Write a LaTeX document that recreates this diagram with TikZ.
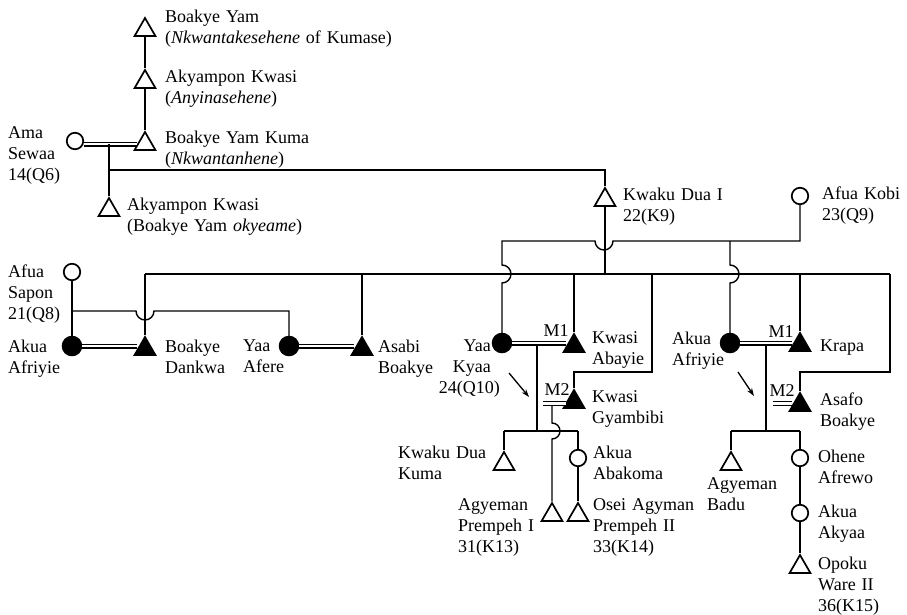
\documentclass[tikz,border=0pt]{standalone}
\usepackage{fontspec}
\setmainfont[WordSpace=1.3]{Liberation Serif}
\usetikzlibrary{shapes.geometric,arrows.meta}
\begin{document}
\begin{tikzpicture}[x=1pt,y=-1pt,
  font=\fontsize{18}{21}\selectfont,
  tri/.style={regular polygon, regular polygon sides=3, minimum size=24pt, inner sep=0pt, draw, line width=1.7pt},
  otri/.style={tri, fill=white},
  ftri/.style={tri, fill=black},
  ocirc/.style={circle, draw, line width=1.7pt, minimum size=16.5pt, inner sep=0pt},
  fcirc/.style={circle, fill=black, draw, line width=1pt, minimum size=19.5pt, inner sep=0pt},
  lbl/.style={align=left, anchor=north west, inner sep=0pt},
  rlbl/.style={align=right, anchor=north east, inner sep=0pt},
  ln/.style={line width=1.4pt},
  marr/.style={double, double distance=2.6pt, line width=1.2pt},
  ptr/.style={line width=1.3pt, -{Stealth[length=8pt,width=5.5pt]}},
]
\useasboundingbox (0,0) rectangle (907,615);

% ---- people ----
\node[otri] (by)   at (145,30)  {};
\node[otri] (ak1)  at (145,82)  {};
\node[otri] (byk)  at (145,144) {};
\node[otri] (ak2)  at (109,210) {};
\node[otri] (kd1)  at (605,200) {};
\node[ftri] (bd)   at (145,349) {};
\node[ftri] (ab)   at (362,349) {};
\node[ftri] (kab)  at (574,346) {};
\node[ftri] (kg)   at (574,402) {};
\node[otri] (kdk)  at (504,464) {};
\node[otri] (ap1)  at (552,515) {};
\node[otri] (oap2) at (578,515) {};
\node[ftri] (kr)   at (800,345) {};
\node[ftri] (asb)  at (800,405) {};
\node[otri] (agb)  at (731,464) {};
\node[otri] (ow2)  at (800,567) {};

\node[ocirc] (as)  at (75,141)  {};
\node[ocirc] (afs) at (72,272)  {};
\node[fcirc] (aa1) at (72,346)  {};
\node[fcirc] (ya)  at (289,346) {};
\node[ocirc] (akb) at (800,196) {};
\node[fcirc] (yk)  at (502,343) {};
\node[ocirc] (aab) at (578,458) {};
\node[fcirc] (aa2) at (730,343) {};
\node[ocirc] (oa)  at (800,458) {};
\node[ocirc] (aak) at (800,513) {};

% ---- labels ----
\node[lbl] (Lby)  at (165,10)  {Boakye Yam\\(\textit{Nkwantakesehene} of Kumase)};
\node[lbl] (Lak1) at (165,70)  {Akyampon Kwasi\\(\textit{Anyinasehene})};
\node[lbl] (Lbyk) at (165,131) {Boakye Yam Kuma\\(\textit{Nkwantanhene})};
\node[lbl] (Lak2) at (127,198) {Akyampon Kwasi\\(Boakye Yam \textit{okyeame})};
\node[lbl] (Las)  at (8,126)   {Ama\\Sewaa\\14(Q6)};
\node[lbl] (Lkd1) at (623,188) {Kwaku Dua I\\22(K9)};
\node[lbl] (Lakb) at (822,187) {Afua Kobi\\23(Q9)};
\node[lbl] (Lafs) at (8,265)   {Afua\\Sapon\\21(Q8)};
\node[lbl] (Laa1) at (8,340)   {Akua\\Afriyie};
\node[lbl] (Lbd)  at (165,340) {Boakye\\Dankwa};
\node[lbl] (Lya)  at (243,340) {Yaa\\Afere};
\node[lbl] (Lab)  at (378,340) {Asabi\\Boakye};
\node[rlbl] (Lyk) at (491,340) {Yaa\\Kyaa\\24(Q10)\hspace*{-9pt}};
\node[lbl] (Lkab) at (592,331) {Kwasi\\Abayie};
\node[lbl] (Lkg)  at (592,390) {Kwasi\\Gyambibi};
\node[lbl] (Lkdk) at (398,446) {Kwaku Dua\\Kuma};
\node[lbl] (Laab) at (593,446) {Akua\\Abakoma};
\node[lbl] (Lap1) at (458,498) {Agyeman\\Prempeh I\\31(K13)};
\node[lbl] (Loap) at (593,498) {Osei Agyman\\Prempeh II\\33(K14)};
\node[lbl] (Laa2) at (672,332) {Akua\\Afriyie};
\node[lbl] (Lkr)  at (820,340) {Krapa};
\node[lbl] (Lasb) at (820,393) {Asafo\\Boakye};
\node[lbl] (Lagb) at (707,477) {Agyeman\\Badu};
\node[lbl] (Loa)  at (818,450) {Ohene\\Afrewo};
\node[lbl] (Laak) at (818,505) {Akua\\Akyaa};
\node[lbl] (Low)  at (818,557) {Opoku\\Ware II\\36(K15)};
\node[inner sep=0pt] (M1a) at (556,331) {M1};
\node[inner sep=0pt] (M2a) at (557,390) {M2};
\node[inner sep=0pt] (M1b) at (781,332) {M1};
\node[inner sep=0pt] (M2b) at (782,391) {M2};

% ---- junction coordinates ----
\coordinate (m0) at (109,144);
\coordinate (j0) at (109,170);
\coordinate (j1) at (605,274);
\coordinate (cbL) at (145,274);
\coordinate (cbR) at (890,274);
\coordinate (c362) at (362,274);
\coordinate (c574) at (574,274);
\coordinate (c652) at (652,274);
\coordinate (c800) at (800,274);
\coordinate (k1) at (800,241);
\coordinate (k2) at (502,241);
\coordinate (k3) at (730,241);
\coordinate (s1) at (72,311);
\coordinate (d1) at (537,345);
\coordinate (d2) at (537,431);
\coordinate (b1) at (504,431);
\coordinate (b2) at (578,431);
\coordinate (m2a) at (543,403.5);
\coordinate (m2v) at (552,405);
\coordinate (d3) at (766,345);
\coordinate (d4) at (766,431);
\coordinate (b3) at (731,431);
\coordinate (b4) at (800,431);
\coordinate (m2b) at (773,403.5);
\coordinate (p1) at (509,373);
\coordinate (p2) at (529,397);
\coordinate (p3) at (738,372);
\coordinate (p4) at (754,396);

% ---- connectors ----
\draw[ln] (by.south) -- (ak1.north);
\draw[ln] (ak1.south) -- (byk.north);
\draw[marr] (as.east |- m0) -- (m0 -| byk.west);
\draw[ln] (m0) -- (ak2.north);
\draw[ln] (j0) -| (kd1.north);
\draw[ln] (kd1.south) -- (j1);
\draw[ln] (cbL) -- (cbR);
\draw[ln] (cbL) -- (bd.north);
\draw[ln] (c362) -- (ab.north);
\draw[ln] (c574) -- (kab.north);
\draw[ln] (c652) -- (652,372) -| (kg.north);
\draw[ln] (c800) -- (kr.north);
\draw[ln] (cbR) -- (890,372) -| (asb.north);

\draw[ln] (akb.south) -- (k1) -- (613,241) arc[start angle=0,end angle=180,radius=9] -- (k2)
  -- (502,265) arc[start angle=-90,end angle=90,radius=9] -- (yk.north);
\draw[ln] (k3) -- (730,265) arc[start angle=-90,end angle=90,radius=9] -- (aa2.north);

\draw[ln] (afs.south) -- (aa1.north);
\draw[ln] (s1) -- (136,311) arc[start angle=180,end angle=0,radius=9] -| (ya.north);

\draw[marr] (aa1.east) -- (aa1.east -| bd.west);
\draw[marr] (ya.east) -- (ya.east -| ab.west);
\draw[marr] (yk.east) -- (yk.east -| kab.west);
\draw[marr] (aa2.east) -- (aa2.east -| kr.west);

\draw[ln] (d1) -- (d2);
\draw[ln] (b1) -- (b2);
\draw[ln] (b1) -- (kdk.north);
\draw[ln] (b2) -- (aab.north);
\draw[ln] (aab.south) -- (oap2.north);
\draw[marr] (m2a) -- (m2a -| kg.west);
\draw[ln] (m2v) -- (552,423) arc[start angle=-90,end angle=90,radius=8] -- (ap1.north);

\draw[ln] (d3) -- (d4);
\draw[ln] (b3) -- (b4);
\draw[ln] (b3) -- (agb.north);
\draw[ln] (b4) -- (oa.north);
\draw[ln] (oa.south) -- (aak.north);
\draw[ln] (aak.south) -- (ow2.north);
\draw[marr] (m2b) -- (m2b -| asb.west);

\draw[ptr] (p1) -- (p2);
\draw[ptr] (p3) -- (p4);
\end{tikzpicture}
\end{document}
